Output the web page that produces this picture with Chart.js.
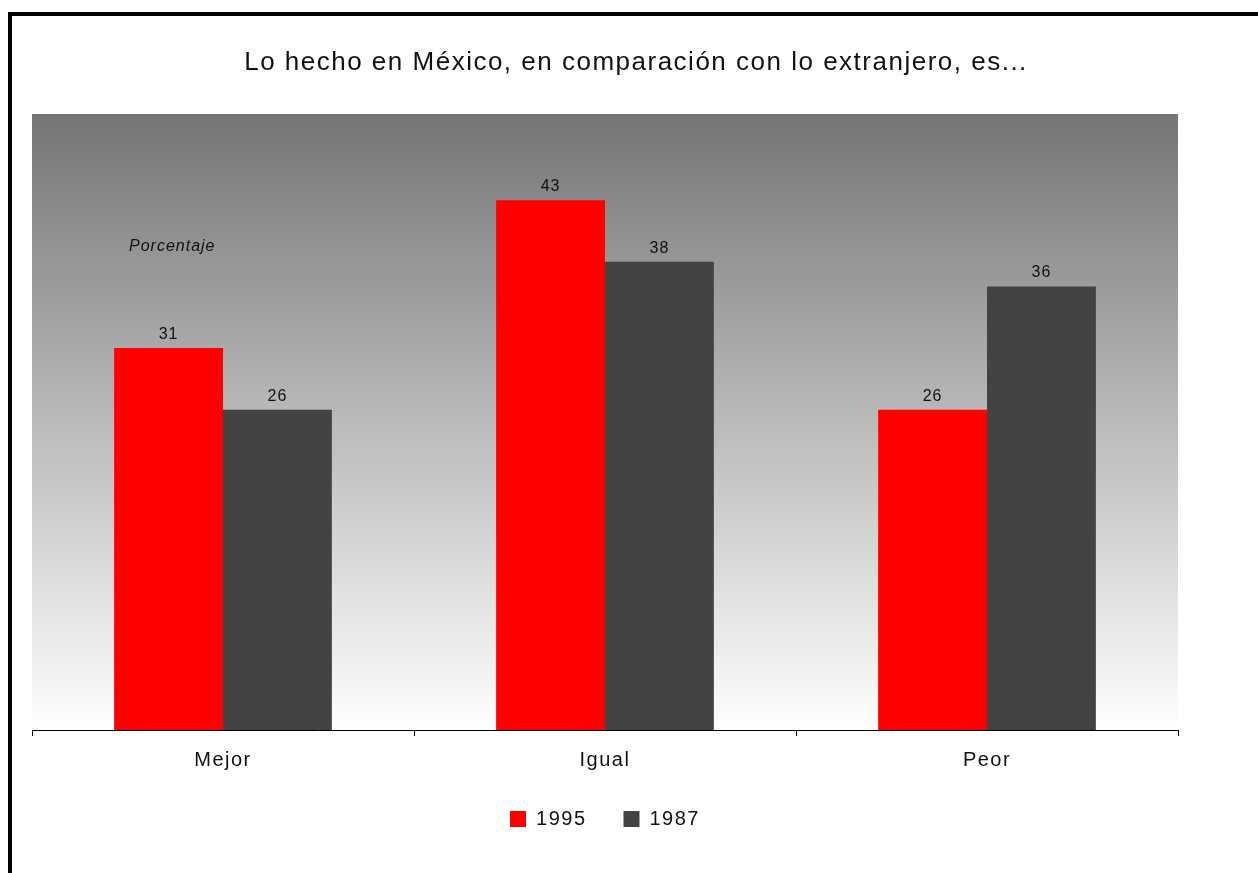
<!DOCTYPE html>
<html>
<head>
<meta charset="utf-8">
<script src="https://cdn.jsdelivr.net/npm/chart.js@4.4.0/dist/chart.umd.min.js"></script>
<style>
  html, body { margin: 0; padding: 0; background: #fff; }
  canvas { display: block; }
</style>
</head>
<body>
<canvas id="chart" width="1258" height="873"></canvas>
<script>
// datos
const categories = ["Mejor", "Igual", "Peor"];
const seriesNames = ["1995", "1987"];
const values1995 = [31, 43, 26];
const values1987 = [26, 38, 36];
const yMin = 0;
const yMax = 50;
const titleText = "Lo hecho en México, en comparación con lo extranjero, es...";
const noteText = "Porcentaje";

const FONT = "'Liberation Sans', Arial, sans-serif";

// espaciado de letras como en el original
const spacingPlugin = {
  id: "spacing",
  beforeUpdate(chart) { chart.ctx.letterSpacing = "1.5px"; },
  beforeDraw(chart) { chart.ctx.letterSpacing = "1.5px"; }
};

// marco negro y fondo degradado del area
const backgroundPlugin = {
  id: "background",
  beforeDraw(chart) {
    const { ctx, chartArea: a } = chart;
    ctx.save();
    ctx.fillStyle = "#000";
    ctx.fillRect(8, 12, chart.width - 8, 4);
    ctx.fillRect(8, 12, 4, chart.height - 12);
    const g = ctx.createLinearGradient(0, a.top, 0, a.bottom);
    g.addColorStop(0, "#757575");
    g.addColorStop(1, "#ffffff");
    ctx.fillStyle = g;
    ctx.fillRect(a.left, a.top, a.right - a.left, a.bottom - a.top);
    ctx.restore();
  }
};

// etiquetas de valores y nota "Porcentaje"
const labelsPlugin = {
  id: "valueLabels",
  afterDatasetsDraw(chart) {
    const { ctx, chartArea: a } = chart;
    ctx.save();
    ctx.letterSpacing = "1px";
    ctx.fillStyle = "#111";
    ctx.font = "16px " + FONT;
    ctx.textAlign = "center";
    ctx.textBaseline = "alphabetic";
    chart.data.datasets.forEach((ds, i) => {
      chart.getDatasetMeta(i).data.forEach((bar, j) => {
        ctx.fillText(String(ds.data[j]), bar.x, bar.y - 9);
      });
    });
    ctx.font = "italic 16px " + FONT;
    ctx.textAlign = "left";
    ctx.fillText(noteText, a.left + 97, a.top + 137);
    ctx.restore();
  }
};

const chart = new Chart(document.getElementById("chart").getContext("2d"), {
  type: "bar",
  data: {
    labels: categories,
    datasets: [
      {
        label: seriesNames[0],
        data: values1995,
        backgroundColor: "#ff0000",
        borderWidth: 0
      },
      {
        label: seriesNames[1],
        data: values1987,
        backgroundColor: "#434343",
        borderWidth: 0
      }
    ]
  },
  options: {
    responsive: false,
    animation: false,
    devicePixelRatio: 1,
    categoryPercentage: 0.57,
    barPercentage: 1.0,
    layout: { padding: { left: 14, right: 0, top: 0, bottom: 34 } },
    scales: {
      x: {
        grid: {
          display: true,
          drawOnChartArea: false,
          drawTicks: true,
          tickLength: 6,
          color: "#000",
          lineWidth: 1
        },
        border: { display: true, color: "#000", width: 1 },
        ticks: {
          color: "#111",
          padding: 14.5,
          font: { family: FONT, size: 20, lineHeight: 1 }
        },
        afterFit(scale) { scale.height = 42; }
      },
      y: {
        min: yMin,
        max: yMax,
        display: true,
        grid: { display: false },
        border: { display: false },
        ticks: { display: false },
        afterFit(scale) { scale.width = 18; }
      },
      y2: {
        position: "right",
        display: true,
        grid: { display: false },
        border: { display: false },
        ticks: { display: false },
        afterFit(scale) { scale.width = 80; }
      }
    },
    plugins: {
      title: {
        display: true,
        text: titleText,
        color: "#111",
        font: { family: FONT, size: 26, weight: "normal", lineHeight: 1.2 },
        padding: { top: 47, bottom: 35.8 }
      },
      legend: {
        display: true,
        position: "bottom",
        fullSize: false,
        labels: {
          boxWidth: 16,
          boxHeight: 16,
          padding: 37,
          color: "#111",
          font: { family: FONT, size: 20 }
        }
      },
      tooltip: { enabled: false }
    }
  },
  plugins: [spacingPlugin, backgroundPlugin, labelsPlugin]
});
</script>
</body>
</html>
